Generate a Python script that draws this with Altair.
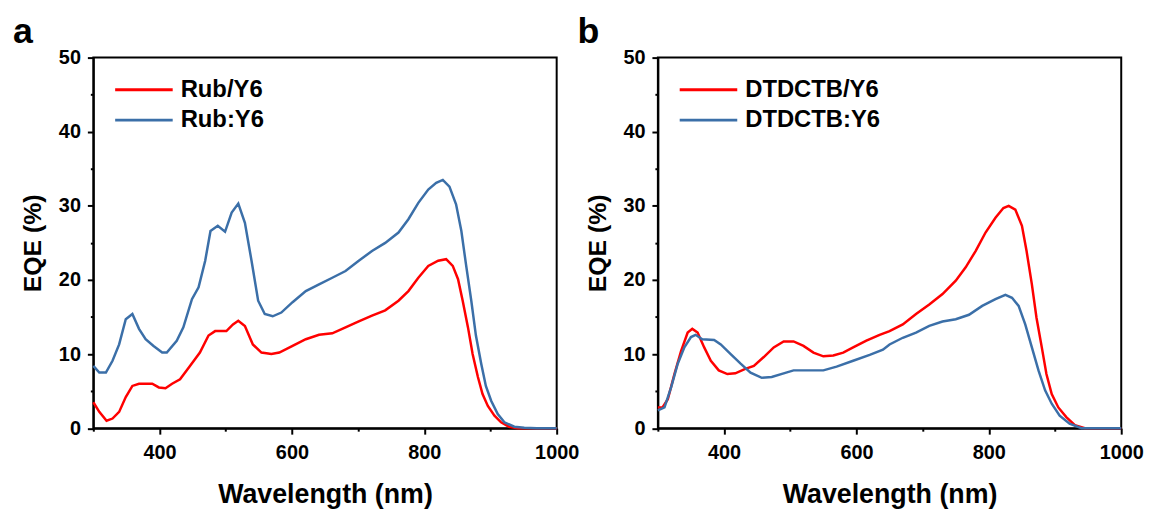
import altair as alt
import pandas as pd

# ---------------- data ----------------
# Panel a
rub_bi_wl = [300, 309, 320, 329, 339, 349, 359, 369, 389, 399, 409, 419, 431, 446, 461, 474, 484, 501, 511, 519, 529, 541, 554, 569, 581, 601, 621, 641, 661, 681, 701, 721, 741, 761, 776, 791, 806, 821, 833, 843, 851, 858, 866, 873, 881, 888, 896, 906, 916, 928, 941, 960, 1000]
rub_bi_eqe = [3.5, 2.2, 1.0, 1.3, 2.2, 4.2, 5.7, 6.0, 6.0, 5.5, 5.4, 6.0, 6.6, 8.4, 10.2, 12.5, 13.1, 13.1, 14.0, 14.5, 13.8, 11.3, 10.2, 10.0, 10.2, 11.1, 12.0, 12.6, 12.8, 13.6, 14.4, 15.2, 15.9, 17.2, 18.5, 20.3, 21.9, 22.6, 22.8, 21.9, 20.1, 17.2, 13.6, 10.0, 6.9, 4.6, 3.0, 1.7, 0.8, 0.2, 0.0, 0.0, 0.0]

rub_bhj_wl = [300, 309, 319, 329, 339, 349, 359, 369, 379, 391, 404, 411, 426, 436, 449, 459, 469, 477, 488, 499, 509, 519, 529, 539, 549, 559, 571, 584, 601, 621, 641, 661, 681, 701, 721, 741, 761, 776, 791, 806, 818, 828, 838, 848, 856, 863, 871, 878, 886, 893, 901, 911, 921, 936, 951, 970, 1000]
rub_bhj_eqe = [8.4, 7.5, 7.5, 9.1, 11.3, 14.7, 15.4, 13.4, 12.0, 11.1, 10.2, 10.2, 11.8, 13.6, 17.4, 19.0, 22.6, 26.6, 27.3, 26.5, 29.1, 30.3, 27.7, 22.6, 17.2, 15.4, 15.1, 15.6, 17.0, 18.5, 19.4, 20.3, 21.2, 22.6, 23.9, 25.0, 26.4, 28.2, 30.4, 32.2, 33.1, 33.5, 32.6, 30.2, 26.6, 22.1, 17.2, 12.5, 8.7, 5.7, 3.7, 1.9, 0.8, 0.2, 0.05, 0.0, 0.0]

# Panel b
dt_bi_wl = [300, 307, 315, 325, 335, 345, 352, 360, 370, 380, 392, 405, 417, 432, 445, 460, 475, 490, 505, 520, 535, 550, 565, 580, 595, 615, 635, 650, 670, 690, 710, 730, 750, 765, 780, 795, 810, 822, 830, 840, 850, 857, 865, 872, 880, 887, 895, 905, 917, 930, 945, 965, 1000]
dt_bi_eqe = [2.8, 2.8, 3.9, 7.3, 10.4, 12.9, 13.4, 12.9, 10.9, 9.1, 7.8, 7.3, 7.4, 8.0, 8.4, 9.6, 10.9, 11.7, 11.7, 11.1, 10.2, 9.7, 9.8, 10.2, 10.9, 11.8, 12.6, 13.1, 14.0, 15.4, 16.7, 18.1, 19.9, 21.7, 23.9, 26.4, 28.4, 29.7, 30.0, 29.5, 27.3, 23.9, 19.4, 14.9, 10.9, 7.3, 4.6, 2.8, 1.5, 0.4, 0.0, 0.0, 0.0]

dt_bhj_wl = [300, 310, 320, 330, 340, 350, 357, 367, 385, 395, 410, 425, 440, 457, 472, 490, 505, 530, 550, 570, 595, 620, 640, 650, 670, 690, 710, 730, 750, 770, 790, 810, 825, 835, 845, 855, 865, 875, 885, 895, 907, 922, 940, 960, 1000]
dt_bhj_eqe = [2.4, 2.8, 5.5, 8.7, 10.9, 12.3, 12.6, 12.0, 11.9, 11.3, 10.0, 8.7, 7.5, 6.8, 6.9, 7.4, 7.8, 7.8, 7.8, 8.3, 9.1, 9.9, 10.6, 11.3, 12.2, 12.9, 13.8, 14.4, 14.7, 15.3, 16.5, 17.4, 18.0, 17.6, 16.5, 14.0, 10.9, 7.8, 5.1, 3.3, 1.7, 0.6, 0.0, 0.0, 0.0]

x_ticks = [300, 400, 500, 600, 700, 800, 900, 1000]
y_ticks = [0, 5, 10, 15, 20, 25, 30, 35, 40, 45, 50]

RED = "#ff0000"
BLUE = "#3b6fa8"
FONT = "Liberation Sans"


def panel(letter, name1, wl1, eqe1, name2, wl2, eqe2):
    df1 = pd.DataFrame({"wl": wl1, "eqe": eqe1, "series": name1})
    df2 = pd.DataFrame({"wl": wl2, "eqe": eqe2, "series": name2})

    x = alt.X(
        "wl:Q",
        scale=alt.Scale(domain=[300, 1000], nice=False, zero=False),
        axis=alt.Axis(
            title="Wavelength (nm)",
            values=x_ticks,
            format="d",
            labelExpr="datum.value % 200 == 0 ? datum.label : ''",
            labelFlush=False,
            labelOverlap=False,
            tickSize={"condition": {"test": "datum.value % 200 == 0", "value": 6}, "value": 3},
            labelPadding=9,
            titlePadding=19,
            titleFontSize=27,
        ),
    )
    y = alt.Y(
        "eqe:Q",
        scale=alt.Scale(domain=[0, 50], nice=False),
        axis=alt.Axis(
            title="EQE (%)",
            values=y_ticks,
            format="d",
            labelExpr="datum.value % 10 == 0 ? datum.label : ''",
            labelFlush=False,
            labelOverlap=False,
            tickSize={"condition": {"test": "datum.value % 10 == 0", "value": 6}, "value": 3},
            labelPadding=7,
            titlePadding=13,
        ),
    )

    l1 = alt.Chart(df1).mark_line(color=RED, strokeWidth=2.5).encode(x=x, y=y)
    l2 = alt.Chart(df2).mark_line(color=BLUE, strokeWidth=2.5).encode(x=x, y=y)

    one = pd.DataFrame({"k": [0]})
    leg_r1 = alt.Chart(one).mark_rule(color=RED, strokeWidth=3).encode(
        x=alt.value(22), x2=alt.value(80), y=alt.value(32.5))
    leg_r2 = alt.Chart(one).mark_rule(color=BLUE, strokeWidth=3).encode(
        x=alt.value(22), x2=alt.value(80), y=alt.value(63))
    leg_t1 = alt.Chart(one).mark_text(
        text=name1, font=FONT, fontSize=24, fontWeight="bold", align="left",
        baseline="middle", color="black").encode(x=alt.value(88), y=alt.value(32.5))
    leg_t2 = alt.Chart(one).mark_text(
        text=name2, font=FONT, fontSize=24, fontWeight="bold", align="left",
        baseline="middle", color="black").encode(x=alt.value(88), y=alt.value(63))
    lab = alt.Chart(one).mark_text(
        text=letter, font=FONT, fontSize=36, fontWeight="bold", align="left",
        baseline="alphabetic", color="black").encode(x=alt.value(-81), y=alt.value(-15))

    return alt.layer(l1, l2, leg_r1, leg_r2, leg_t1, leg_t2, lab).properties(
        width=467, height=373.5)


pa = panel("a", "Rub/Y6", rub_bi_wl, rub_bi_eqe, "Rub:Y6", rub_bhj_wl, rub_bhj_eqe)
pb = panel("b", "DTDCTB/Y6", dt_bi_wl, dt_bi_eqe, "DTDCTB:Y6", dt_bhj_wl, dt_bhj_eqe)

chart = alt.hconcat(pa, pb, spacing=102, bounds="flush").properties(
    padding={"left": 4, "top": 3, "right": 5, "bottom": 5},
    background="white",
).configure_view(
    stroke="black", strokeWidth=2
).configure_axis(
    grid=False,
    domainColor="black",
    domainWidth=2,
    tickColor="black",
    tickWidth=2,
    labelFont=FONT,
    labelFontSize=20,
    labelFontWeight="bold",
    labelColor="black",
    titleFont=FONT,
    titleFontSize=25,
    titleFontWeight="bold",
    titleColor="black",
)

chart.save("out.html", embed_options={"renderer": "svg", "actions": False})
